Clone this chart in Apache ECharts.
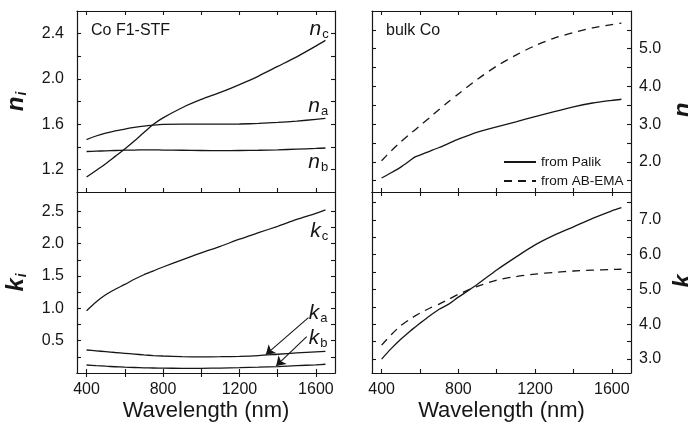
<!DOCTYPE html>
<html>
<head>
<meta charset="utf-8">
<script src="https://cdn.jsdelivr.net/npm/echarts@6/dist/echarts.min.js"></script>
<style>
  html, body { margin: 0; padding: 0; background: #fff; }
  #chart { width: 688px; height: 430px; }
</style>
</head>
<body>
<div id="chart"></div>
<script>
// Optical constants of Co: sculptured thin film (F1-STF) principal indices and bulk Co.
const filmWavelength = [400, 450, 500, 550, 600, 650, 700, 750, 800, 900, 1000, 1100, 1200, 1300, 1400, 1500, 1600, 1650];
const filmNa = [1.463, 1.495, 1.52, 1.54, 1.556, 1.571, 1.583, 1.591, 1.597, 1.600, 1.600, 1.600, 1.601, 1.606, 1.615, 1.627, 1.642, 1.65];
const filmNb = [1.358, 1.361, 1.364, 1.367, 1.370, 1.371, 1.372, 1.372, 1.371, 1.369, 1.367, 1.366, 1.367, 1.369, 1.373, 1.379, 1.385, 1.389];
const filmNc = [1.132, 1.19, 1.25, 1.315, 1.38, 1.45, 1.525, 1.598, 1.655, 1.745, 1.818, 1.88, 1.95, 2.025, 2.11, 2.195, 2.29, 2.34];
const filmKa = [0.356, 0.343, 0.33, 0.317, 0.305, 0.292, 0.28, 0.27, 0.263, 0.253, 0.25, 0.252, 0.258, 0.27, 0.29, 0.31, 0.328, 0.336];
const filmKb = [0.124, 0.114, 0.105, 0.097, 0.09, 0.085, 0.08, 0.077, 0.075, 0.073, 0.073, 0.076, 0.082, 0.09, 0.1, 0.113, 0.127, 0.135];
const filmKc = [0.964, 1.10, 1.21, 1.295, 1.37, 1.45, 1.52, 1.58, 1.64, 1.75, 1.86, 1.96, 2.07, 2.17, 2.27, 2.375, 2.47, 2.525];

const bulkWavelength = [400, 450, 500, 550, 575, 600, 650, 700, 750, 800, 900, 1000, 1100, 1200, 1300, 1400, 1500, 1600, 1650];
const bulkNPalik = [1.57, 1.71, 1.86, 2.04, 2.13, 2.18, 2.28, 2.38, 2.49, 2.60, 2.79, 2.93, 3.06, 3.20, 3.33, 3.46, 3.56, 3.63, 3.66];
const bulkNEma   = [2.03, 2.29, 2.53, 2.75, 2.85, 2.96, 3.17, 3.39, 3.60, 3.80, 4.19, 4.54, 4.83, 5.08, 5.28, 5.43, 5.55, 5.64, 5.68];
const bulkKPalik = [3.00, 3.30, 3.57, 3.81, 3.92, 4.03, 4.24, 4.43, 4.58, 4.78, 5.15, 5.56, 5.93, 6.28, 6.56, 6.80, 7.04, 7.26, 7.35];
const bulkKEma   = [3.40, 3.70, 3.96, 4.15, 4.24, 4.32, 4.46, 4.58, 4.72, 4.86, 5.09, 5.27, 5.37, 5.44, 5.49, 5.53, 5.555, 5.575, 5.58];

// Axis ticks and labels
const xTicks = [400, 600, 800, 1000, 1200, 1400, 1600];
const xLabels = [400, 800, 1200, 1600];
const nFilmTicks = [1.2, 1.4, 1.6, 1.8, 2.0, 2.2, 2.4];
const nFilmLabels = [1.2, 1.6, 2.0, 2.4];
const kFilmTicks = [0.25, 0.5, 0.75, 1.0, 1.25, 1.5, 1.75, 2.0, 2.25, 2.5];
const kFilmLabels = [0.5, 1.0, 1.5, 2.0, 2.5];
const nBulkTicks = [1.5, 2.0, 2.5, 3.0, 3.5, 4.0, 4.5, 5.0, 5.5];
const nBulkLabels = [2.0, 3.0, 4.0, 5.0];
const kBulkTicks = [3.0, 3.5, 4.0, 4.5, 5.0, 5.5, 6.0, 6.5, 7.0, 7.5];
const kBulkLabels = [3.0, 4.0, 5.0, 6.0, 7.0];

const FONT = 'Liberation Sans, Arial, Helvetica, sans-serif';
const INK = '#161616';

const grids = [
  { left: 77, top: 11, width: 258, height: 181 },   // film n
  { left: 77, top: 192, width: 258, height: 181 },  // film k
  { left: 372, top: 11, width: 259, height: 181 },  // bulk n
  { left: 372, top: 192, width: 259, height: 181 }  // bulk k
];

const axisLineStyle = { lineStyle: { color: INK, width: 1.2 } };
const tickStyle = (values) => ({ show: true, inside: true, length: 4, customValues: values, lineStyle: { color: INK, width: 1.1 } });

function xAxisPair(gridIndex, withLabels) {
  const base = {
    type: 'value', gridIndex, min: 350, max: 1700,
    axisLine: axisLineStyle, splitLine: { show: false },
    axisTick: tickStyle(xTicks)
  };
  const bottom = Object.assign({}, base, {
    position: 'bottom',
    axisLabel: withLabels
      ? { show: true, customValues: xLabels, margin: 9, fontSize: 16, color: INK, fontFamily: FONT, formatter: (v) => String(Math.round(v)) }
      : { show: false }
  });
  if (withLabels) {
    Object.assign(bottom, {
      name: 'Wavelength (nm)', nameLocation: 'middle', nameGap: 27,
      nameTextStyle: { fontSize: 22, color: INK, fontFamily: FONT }
    });
  }
  const top = Object.assign({}, base, { position: 'top', axisLabel: { show: false } });
  return [bottom, top];
}

function yAxisPair(gridIndex, min, max, ticks, labels, labelSide, name) {
  const base = {
    type: 'value', gridIndex, min, max,
    axisLine: axisLineStyle, splitLine: { show: false },
    axisTick: tickStyle(ticks)
  };
  const labelCfg = {
    show: true, customValues: labels, fontSize: 16, color: INK, fontFamily: FONT, margin: 13,
    formatter: (v) => Number(v).toFixed(1)
  };
  const left = Object.assign({}, base, { position: 'left', axisLabel: { show: false } });
  const right = Object.assign({}, base, { position: 'right', axisLabel: { show: false } });
  if (labelSide === 'left') {
    Object.assign(left, {
      axisLabel: labelCfg,
      name, nameLocation: 'middle', nameRotate: 90, nameGap: 48,
      nameTextStyle: {
        color: INK, fontFamily: FONT,
        rich: {
          v: { fontSize: 24, fontWeight: 'bold', fontStyle: 'italic', fontFamily: FONT, color: INK },
          s: { fontSize: 14, fontWeight: 'bold', fontStyle: 'italic', fontFamily: FONT, color: INK, padding: [12, 0, 0, 1] }
        }
      }
    });
  } else {
    Object.assign(right, { axisLabel: Object.assign({}, labelCfg, { margin: 8 }) });
  }
  return [left, right];
}

const xAxes = [].concat(
  xAxisPair(0, false), xAxisPair(1, true), xAxisPair(2, false), xAxisPair(3, true)
);
const yAxes = [].concat(
  yAxisPair(0, 1.0, 2.6, nFilmTicks, nFilmLabels, 'left', '{v|n}{s|i}'),
  yAxisPair(1, 0, 2.8, kFilmTicks, kFilmLabels, 'left', '{v|k}{s|i}'),
  yAxisPair(2, 1.2, 6.0, nBulkTicks, nBulkLabels, 'right'),
  yAxisPair(3, 2.6, 7.8, kBulkTicks, kBulkLabels, 'right')
);

const pairs = (xs, ys) => xs.map((x, i) => [x, ys[i]]);

const tagRich = {
  v: { fontSize: 21, fontStyle: 'italic', fontFamily: FONT, color: INK },
  s: { fontSize: 13, fontFamily: FONT, color: INK, padding: [11, 0, 0, 1] }
};
function tag(coord, symbolText, sub) {
  return {
    coord, value: 0,
    label: { show: true, position: 'inside', formatter: '{v|' + symbolText + '}{s|' + sub + '}', rich: tagRich }
  };
}
function tagMark(item) {
  return { symbol: 'circle', symbolSize: 0, silent: true, data: [item] };
}

function curve(name, xi, yi, xs, ys, dashed, extra) {
  return Object.assign({
    type: 'line', name, xAxisIndex: xi, yAxisIndex: yi,
    data: pairs(xs, ys), showSymbol: false, symbol: 'none', smooth: 0.25,
    lineStyle: { color: INK, width: 1.3, type: dashed ? [8, 6] : 'solid' },
    itemStyle: { color: INK }, silent: true
  }, extra || {});
}

function arrow(from, to) {
  return {
    silent: true, symbol: ['none', 'arrow'], symbolSize: 9,
    label: { show: false },
    lineStyle: { color: INK, width: 1.1, type: 'solid' },
    data: [[{ coord: from }, { coord: to }]]
  };
}

const series = [
  curve('na', 0, 0, filmWavelength, filmNa, false, { markPoint: tagMark(tag([1612, 1.76], 'n', 'a')) }),
  curve('nb', 0, 0, filmWavelength, filmNb, false, { markPoint: tagMark(tag([1612, 1.265], 'n', 'b')) }),
  curve('nc', 0, 0, filmWavelength, filmNc, false, { markPoint: tagMark(tag([1617, 2.44], 'n', 'c')) }),
  curve('ka', 2, 2, filmWavelength, filmKa, false, {
    markPoint: tagMark(tag([1612, 0.93], 'k', 'a')),
    markLine: arrow([1561, 0.856], [1338, 0.285])
  }),
  curve('kb', 2, 2, filmWavelength, filmKb, false, {
    markPoint: tagMark(tag([1612, 0.54], 'k', 'b')),
    markLine: arrow([1552, 0.562], [1392, 0.11])
  }),
  curve('kc', 2, 2, filmWavelength, filmKc, false, { markPoint: tagMark(tag([1617, 2.2], 'k', 'c')) }),
  curve('from Palik', 4, 4, bulkWavelength, bulkNPalik, false),
  curve('from AB-EMA', 4, 4, bulkWavelength, bulkNEma, true),
  curve('from Palik', 6, 6, bulkWavelength, bulkKPalik, false),
  curve('from AB-EMA', 6, 6, bulkWavelength, bulkKEma, true)
];

// Right-hand axis titles of the bulk panels, running off the page edge
const sideTitle = (text, y) => ({
  type: 'text', x: 683, y, rotation: Math.PI / 2, silent: true,
  style: { text, font: 'italic bold 24px ' + FONT, fill: INK, align: 'center', verticalAlign: 'middle' }
});

const chart = echarts.init(document.getElementById('chart'), null, { renderer: 'canvas' });
chart.setOption({
  animation: false,
  backgroundColor: '#fff',
  textStyle: { fontFamily: FONT },
  title: [
    { text: 'Co F1-STF', left: 91, top: 23, padding: 0, textStyle: { fontSize: 16, fontWeight: 'normal', color: INK, fontFamily: FONT } },
    { text: 'bulk Co', left: 386, top: 23, padding: 0, textStyle: { fontSize: 16, fontWeight: 'normal', color: INK, fontFamily: FONT } }
  ],
  legend: {
    data: ['from Palik', 'from AB-EMA'], orient: 'vertical', left: 503, top: 155, padding: 0,
    itemWidth: 32, itemHeight: 12, itemGap: 5, selectedMode: false,
    itemStyle: { opacity: 0 },
    textStyle: { fontSize: 13.5, color: INK, fontFamily: FONT }
  },
  graphic: [sideTitle('n', 110), sideTitle('k', 281)],
  grid: grids,
  xAxis: xAxes,
  yAxis: yAxes,
  series
});
</script>
</body>
</html>
